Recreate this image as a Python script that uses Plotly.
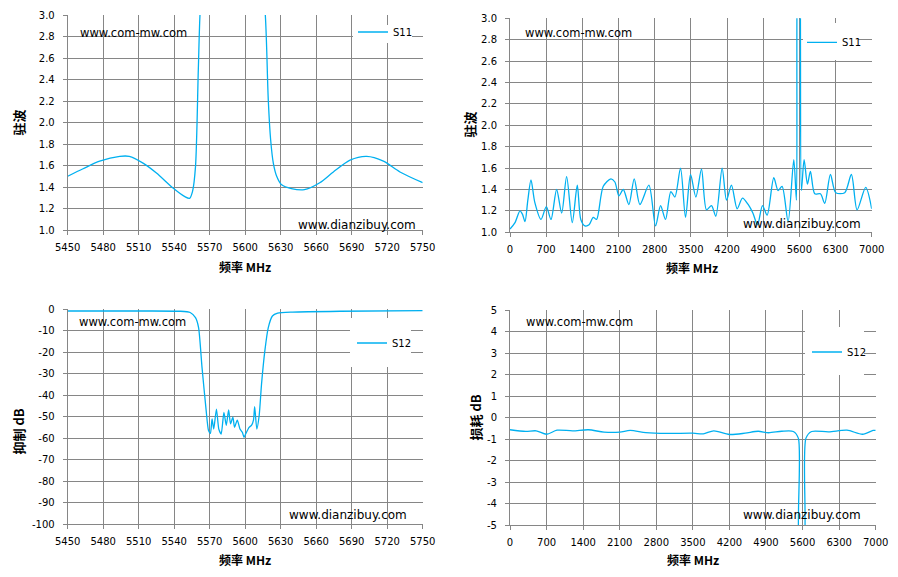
import plotly.graph_objects as go

# ---------------- data ----------------
# Top-left: S11 VSWR, 5450-5750 MHz
tl_freq = [5450, 5463, 5477, 5494, 5502, 5514, 5525, 5539, 5549, 5553, 5555.5, 5558, 5560.4, 5562, 5566,
           5612, 5617, 5619.5, 5621.5, 5623.8, 5626.6, 5630.8, 5639, 5650, 5663, 5674.5, 5688.6, 5702.7,
           5716.8, 5730.8, 5750]
tl_vswr = [1.50, 1.57, 1.64, 1.685, 1.685, 1.62, 1.53, 1.39, 1.31, 1.295, 1.36, 1.59, 2.5, 3.05, 3.6,
           3.6, 3.0, 2.21, 1.84, 1.62, 1.50, 1.42, 1.385, 1.375, 1.44, 1.54, 1.65, 1.685,
           1.64, 1.54, 1.44]

# Top-right: S11 VSWR, 0-7000 MHz
tr_freq = [0, 97, 193, 240, 290, 345, 406, 480, 600, 703, 793, 902, 1000, 1096, 1205, 1302, 1370, 1450,
           1530, 1611, 1676, 1805, 1953, 2030, 2108, 2192, 2301, 2404, 2514, 2688, 2817, 2914, 3010,
           3113, 3191, 3300, 3397, 3494, 3597, 3706, 3803, 3900, 3983, 4106, 4190, 4286, 4396, 4499,
           4609, 4700, 4790, 4886, 4976, 5105, 5189, 5266, 5382, 5492, 5543, 5560, 5590, 5614, 5640,
           5692, 5756, 5814, 5898, 6008, 6091, 6201, 6304, 6478, 6607, 6717, 6884, 7000]
tr_vswr = [1.03, 1.09, 1.20, 1.17, 1.10, 1.30, 1.49, 1.28, 1.12, 1.24, 1.12, 1.40, 1.18, 1.52, 1.09, 1.44,
           1.12, 1.06, 1.07, 1.14, 1.12, 1.43, 1.50, 1.47, 1.34, 1.40, 1.26, 1.50, 1.26, 1.44, 1.06, 1.25,
           1.12, 1.38, 1.33, 1.60, 1.14, 1.54, 1.33, 1.59, 1.21, 1.25, 1.15, 1.60, 1.30, 1.44, 1.22, 1.32,
           1.26, 1.18, 1.07, 1.25, 1.16, 1.51, 1.39, 1.43, 1.10, 1.68, 1.30, 3.4, 3.6, 3.4, 1.39,
           1.68, 1.45, 1.57, 1.36, 1.36, 1.27, 1.54, 1.37, 1.37, 1.54, 1.21, 1.42, 1.22]

# Bottom-left: S12 rejection dB, 5450-5750 MHz
bl_freq = [5450, 5500, 5545, 5553.5, 5558, 5560.6, 5563.5, 5567, 5569, 5570.6, 5572, 5573.4, 5575.7,
           5577.7, 5579.7, 5582, 5584, 5586, 5587.6, 5589.6, 5591, 5593.3, 5595.6, 5597.6, 5599,
           5600.4, 5603.3, 5605.3, 5607, 5608, 5609.8, 5611.8, 5613.8, 5616.6, 5619.5, 5623, 5627.4,
           5640, 5680, 5750]
bl_rej = [-0.8, -0.8, -0.9, -1.5, -3.9, -8.5, -27, -47, -56.4, -57.7, -51, -55.7, -46.4,
          -55.7, -58, -48, -54, -46.8, -53.3, -50.2, -54.9, -51.5, -55.7, -57.2, -59.5,
          -58, -54.9, -54, -51.5, -45.3, -55.7, -49.5, -34.8, -19.3, -8.5, -3.1, -1.8,
          -1.3, -0.9, -0.6]

# Bottom-right: S12 loss dB, 0-7000 MHz
br_freq = [0, 300, 500, 700, 900, 1200, 1500, 1800, 2100, 2300, 2600, 3000, 3500, 3700, 3900, 4200,
           4500, 4750, 4950, 5200, 5423, 5519, 5548, 5617, 5665, 5774, 6100, 6450, 6750, 6950, 7000]
br_loss = [-0.57, -0.65, -0.62, -0.78, -0.59, -0.62, -0.57, -0.68, -0.68, -0.60, -0.70, -0.74, -0.73,
           -0.76, -0.62, -0.79, -0.73, -0.64, -0.71, -0.64, -0.65, -0.96, -6.0, -6.0, -0.96, -0.65,
           -0.67, -0.59, -0.78, -0.60, -0.60]

# tick values
narrow_ticks = list(range(5450, 5751, 30))
wide_ticks = list(range(0, 7001, 700))
vswr_ticks = [round(1.0 + 0.2 * i, 1) for i in range(11)]
rej_ticks = list(range(-100, 1, 10))
loss_ticks = list(range(-5, 6, 1))

# ---------------- styling ----------------
VIEW_W, VIEW_H = 898, 577
OFF = 8  # default page margin around the figure
W, H = VIEW_W - 2 * OFF, VIEW_H - 2 * OFF
LINE = "#00B0F0"
GRID = "#868686"
TICKFONT = dict(family="DejaVu Sans", size=10, color="#000000")
CJK = "Noto Sans CJK SC"


def px_x(p):
    return (p - OFF) / W


def px_y(p):
    return 1 - (p - OFF) / H


fig = go.Figure()

fig.add_trace(go.Scatter(x=tl_freq, y=tl_vswr, mode="lines", name="S11",
                         line=dict(color=LINE, width=1.3, shape="spline", smoothing=0.8),
                         xaxis="x", yaxis="y", legend="legend", showlegend=True))
fig.add_trace(go.Scatter(x=tr_freq, y=tr_vswr, mode="lines", name="S11",
                         line=dict(color=LINE, width=1.3, shape="spline", smoothing=0.8),
                         xaxis="x2", yaxis="y2", legend="legend2", showlegend=True))
fig.add_trace(go.Scatter(x=bl_freq, y=bl_rej, mode="lines", name="S12",
                         line=dict(color=LINE, width=1.3, shape="spline", smoothing=0.6),
                         xaxis="x3", yaxis="y3", legend="legend3", showlegend=True))
fig.add_trace(go.Scatter(x=br_freq, y=br_loss, mode="lines", name="S12",
                         line=dict(color=LINE, width=1.3, shape="spline", smoothing=0.8),
                         xaxis="x4", yaxis="y4", legend="legend4", showlegend=True))

panels = [
    ("xaxis", "yaxis", (67.7, 422.7), (15, 230), [5450, 5750], narrow_ticks, [1.0, 3.0], vswr_ticks, ".1f"),
    ("xaxis2", "yaxis2", (510, 871.7), (18.3, 232.3), [0, 7000], wide_ticks, [1.0, 3.0], vswr_ticks, ".1f"),
    ("xaxis3", "yaxis3", (67.7, 422.7), (309.3, 524.3), [5450, 5750], narrow_ticks, [-100, 0], rej_ticks, "d"),
    ("xaxis4", "yaxis4", (510, 875.7), (310, 525), [0, 7000], wide_ticks, [-5, 5], loss_ticks, "d"),
]

layout = dict(
    template="none",
    width=W, height=H,
    margin=dict(l=0, r=0, t=0, b=0, pad=0, autoexpand=False),
    paper_bgcolor="white", plot_bgcolor="white",
    font=dict(family="DejaVu Sans", size=10, color="#000000"),
    showlegend=True,
)

for i, (xk, yk, xr, yr, xrange_, xt, yrange_, yt, yfmt) in enumerate(panels):
    n = "" if i == 0 else str(i + 1)
    layout[xk] = dict(
        domain=[px_x(xr[0]), px_x(xr[1])], range=xrange_, anchor="y" + n,
        tickmode="array", tickvals=xt, ticktext=[str(v) for v in xt],
        showgrid=True, gridcolor=GRID, gridwidth=1,
        showline=True, linecolor=GRID, linewidth=1,
        ticks="outside", ticklen=4, tickcolor=GRID, tickwidth=1, tickfont=TICKFONT,
        ticklabelstandoff=4,
        zeroline=False, fixedrange=True, automargin=False,
    )
    layout[yk] = dict(
        domain=[px_y(yr[1]), px_y(yr[0])], range=yrange_, anchor="x" + n,
        tickmode="array", tickvals=yt,
        ticktext=[format(v, yfmt) if yfmt == ".1f" else str(v) for v in yt],
        showgrid=True, gridcolor=GRID, gridwidth=1,
        showline=True, linecolor=GRID, linewidth=1,
        ticks="outside", ticklen=4, tickcolor=GRID, tickwidth=1, tickfont=TICKFONT,
        ticklabelstandoff=6,
        zeroline=False, fixedrange=True, automargin=False,
    )

# white legend boxes (hide the gridlines like the reference) + transparent legends on top
legend_boxes = [(353, 25, 412, 43), (803, 23, 858, 60), (350, 318, 411, 367), (805, 327, 864, 375)]
legend_pos = [(353, 32), (802, 42.3), (352, 343), (807, 352)]
shapes = []
for (x0, y0, x1, y1) in legend_boxes:
    shapes.append(dict(type="rect", xref="paper", yref="paper", x0=px_x(x0), x1=px_x(x1),
                       y0=px_y(y1), y1=px_y(y0), fillcolor="white", line=dict(width=0), layer="above"))
layout["shapes"] = shapes

legend_style = dict(bgcolor="rgba(0,0,0,0)", borderwidth=0,
                    font=dict(family="DejaVu Sans", size=10, color="#000000"),
                    xanchor="left", yanchor="middle", itemwidth=30, tracegroupgap=0, visible=True)
for k, (x, y) in zip(["legend", "legend2", "legend3", "legend4"], legend_pos):
    layout[k] = dict(x=px_x(x), y=px_y(y), **legend_style)

annotations = []
wm1 = [(78.3, 32.7), (523.3, 32.7), (76.7, 321.7), (524, 322.3)]
wm2 = [(417.7, 225), (863.3, 224), (409.3, 515), (863.3, 515)]
for (x, y) in wm1:
    annotations.append(dict(text="www.com-mw.com", x=px_x(x), y=px_y(y), xref="paper", yref="paper",
                            xanchor="left", yanchor="middle", showarrow=False,
                            font=dict(family="DejaVu Sans", size=11.5, color="#000000")))
for (x, y) in wm2:
    annotations.append(dict(text="www.dianzibuy.com", x=px_x(x), y=px_y(y), xref="paper", yref="paper",
                            xanchor="right", yanchor="middle", showarrow=False,
                            font=dict(family="DejaVu Sans", size=12, color="#000000")))

ytitles = [("驻波", 18, 122.5), ("驻波", 469, 124.5), ("抑制 dB", 18, 431.5), ("损耗 dB", 475, 417.5)]
for (t, x, y) in ytitles:
    annotations.append(dict(text="<b>" + t + "</b>", x=px_x(x), y=px_y(y), xref="paper", yref="paper",
                            xanchor="center", yanchor="middle", showarrow=False, textangle=-90,
                            borderpad=0, font=dict(family=CJK, size=13, color="#000000")))
xtitles = [(245, 266.7), (691.7, 268), (245, 559.5), (693.3, 559.5)]
for (x, y) in xtitles:
    annotations.append(dict(text="<b>频率 MHz</b>", x=px_x(x), y=px_y(y), xref="paper", yref="paper",
                            xanchor="center", yanchor="middle", showarrow=False, borderpad=0,
                            font=dict(family=CJK, size=12, color="#000000")))

layout["annotations"] = annotations
fig.update_layout(**layout)

fig.write_html("out.html")
